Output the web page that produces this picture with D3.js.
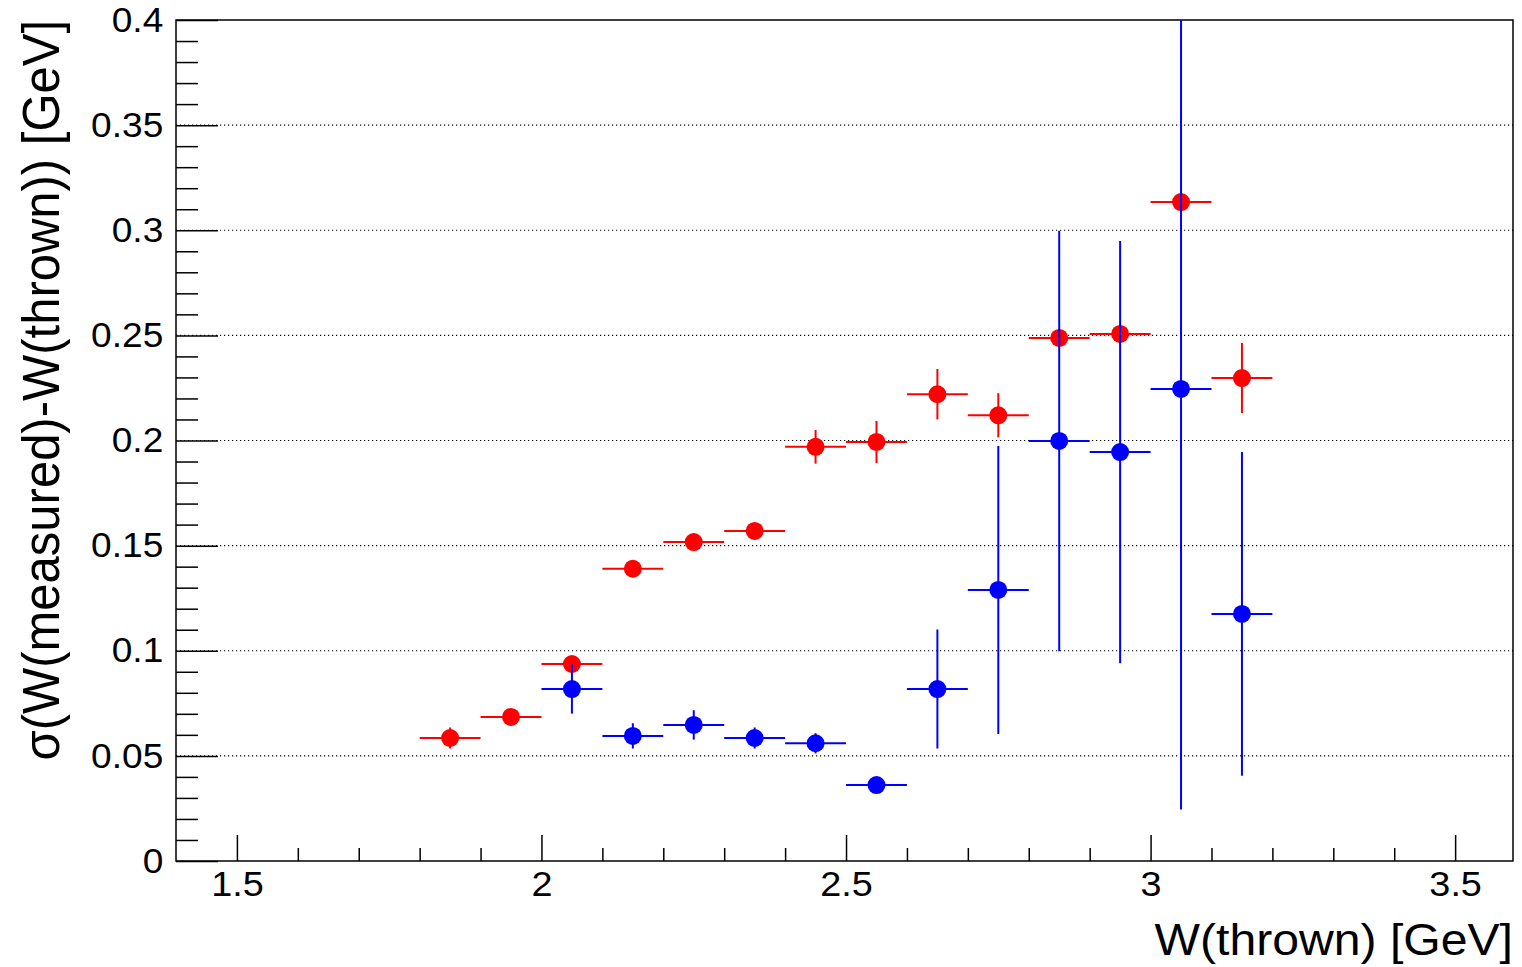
<!DOCTYPE html>
<html>
<head>
<meta charset="utf-8">
<script src="https://cdn.jsdelivr.net/npm/d3@7"></script>
<style>
  body { margin: 0; background: #fff; }
  svg { display: block; font-family: 'Liberation Sans', Arial, sans-serif; }
</style>
</head>
<body>
<svg id="chart" width="1522" height="967"></svg>
<script>
// bin centres of W(thrown), half width 0.05
const binHalf = 0.05;
const redW     = [1.85, 1.95, 2.05, 2.15, 2.25, 2.35, 2.45, 2.55, 2.65, 2.75, 2.85, 2.95, 3.05, 3.15];
const redSigma = [0.0585, 0.0685, 0.0937, 0.139, 0.1517, 0.157, 0.197, 0.1993, 0.222, 0.212, 0.2488, 0.2507, 0.3134, 0.2297];
const redErr   = [0.005, 0.003, 0.003, 0.003, 0.004, 0.004, 0.008, 0.010, 0.012, 0.0105, 0.002, 0.002, 0.002, 0.0167];

const blueW     = [2.05, 2.15, 2.25, 2.35, 2.45, 2.55, 2.65, 2.75, 2.85, 2.95, 3.05, 3.15];
const blueSigma = [0.0818, 0.0595, 0.0647, 0.0585, 0.056, 0.0361, 0.0818, 0.1289, 0.1998, 0.1945, 0.2245, 0.1175];
const blueErr   = [0.0117, 0.006, 0.007, 0.005, 0.0048, 0.002, 0.0283, 0.0685, 0.100, 0.1004, 0.200, 0.077];

const xMajor = [1.5, 2, 2.5, 3, 3.5];
const yMajor = [0, 0.05, 0.1, 0.15, 0.2, 0.25, 0.3, 0.35, 0.4];
const yGrid  = [0.05, 0.1, 0.15, 0.2, 0.25, 0.3, 0.35];

const series = [
    { color: '#ff0000', pts: redW.map((w, i) => ({ w, s: redSigma[i], e: redErr[i] })) },
    { color: '#0000ff', pts: blueW.map((w, i) => ({ w, s: blueSigma[i], e: blueErr[i] })) }
];

const margin = { top: 20, left: 176, right: 9, bottom: 106 };
const W = 1522 - margin.left - margin.right;
const H = 967 - margin.top - margin.bottom;

const svg = d3.select('#chart');
const g = svg.append('g').attr('transform', `translate(${margin.left},${margin.top})`);

const x = d3.scaleLinear().domain([1.4, 3.595]).range([0, W]);
const y = d3.scaleLinear().domain([0, 0.4]).range([H, 0]);

// dotted grid
g.append('g').selectAll('line').data(yGrid).join('line')
    .attr('x1', 0).attr('x2', W)
    .attr('y1', d => y(d)).attr('y2', d => y(d))
    .attr('stroke', '#000').attr('stroke-width', 1.2)
    .attr('stroke-dasharray', '1.2,2.8');

// minor ticks
const xMinor = d3.range(15, 36).map(d => d / 10).filter(d => !xMajor.includes(d));
const yMinor = d3.range(1, 40).map(d => d / 100).filter(d => d % 0.05 > 1e-6 && 0.05 - d % 0.05 > 1e-6);

g.append('g').attr('transform', `translate(0,${H})`)
    .call(d3.axisBottom(x).tickValues(xMinor).tickSize(-13).tickFormat(''))
    .call(a => a.select('.domain').remove());
g.append('g')
    .call(d3.axisLeft(y).tickValues(yMinor).tickSize(-22).tickFormat(''))
    .call(a => a.select('.domain').remove());

// major ticks + labels
const xAxis = g.append('g').attr('transform', `translate(0,${H})`)
    .call(d3.axisBottom(x).tickValues(xMajor).tickSize(-26).tickPadding(10).tickFormat(d3.format('')));
xAxis.select('.domain').remove();
xAxis.selectAll('text').attr('font-size', 35).attr('fill', '#000')
    .attr('transform', 'scale(1.08,1)');

const yAxis = g.append('g')
    .call(d3.axisLeft(y).tickValues(yMajor).tickSize(-42).tickPadding(12).tickFormat(d3.format('')));
yAxis.select('.domain').remove();
yAxis.selectAll('text').attr('font-size', 35).attr('fill', '#000')
    .attr('transform', 'scale(1.06,1)');

g.selectAll('.tick line').attr('stroke', '#000').attr('stroke-width', 1.5);

// frame
g.append('rect').attr('x', 0).attr('y', 0).attr('width', W).attr('height', H)
    .attr('fill', 'none').attr('stroke', '#000').attr('stroke-width', 1.5);

// data
svg.append('clipPath').attr('id', 'frameClip')
    .append('rect').attr('width', W).attr('height', H);
const plot = g.append('g').attr('clip-path', 'url(#frameClip)');

series.forEach(s => {
    const sg = plot.append('g');
    sg.selectAll('.xerr').data(s.pts).join('line').attr('class', 'xerr')
        .attr('x1', d => x(d.w - binHalf)).attr('x2', d => x(d.w + binHalf))
        .attr('y1', d => y(d.s)).attr('y2', d => y(d.s))
        .attr('stroke', s.color).attr('stroke-width', 2);
    sg.selectAll('.yerr').data(s.pts).join('line').attr('class', 'yerr')
        .attr('x1', d => x(d.w)).attr('x2', d => x(d.w))
        .attr('y1', d => y(d.s - d.e)).attr('y2', d => y(d.s + d.e))
        .attr('stroke', s.color).attr('stroke-width', 2);
    sg.selectAll('circle').data(s.pts).join('circle')
        .attr('cx', d => x(d.w)).attr('cy', d => y(d.s)).attr('r', 9)
        .attr('fill', s.color);
});

// axis titles
svg.append('text')
    .attr('transform', `translate(1513,955) scale(1.07,1)`)
    .attr('text-anchor', 'end').attr('font-size', 45).attr('fill', '#000')
    .text('W(thrown) [GeV]');

svg.append('text')
    .attr('transform', `translate(59,20) scale(1.05,1) rotate(-90)`)
    .attr('text-anchor', 'end').attr('font-size', 49).attr('fill', '#000')
    .text('σ(W(measured)-W(thrown)) [GeV]');
</script>
</body>
</html>
